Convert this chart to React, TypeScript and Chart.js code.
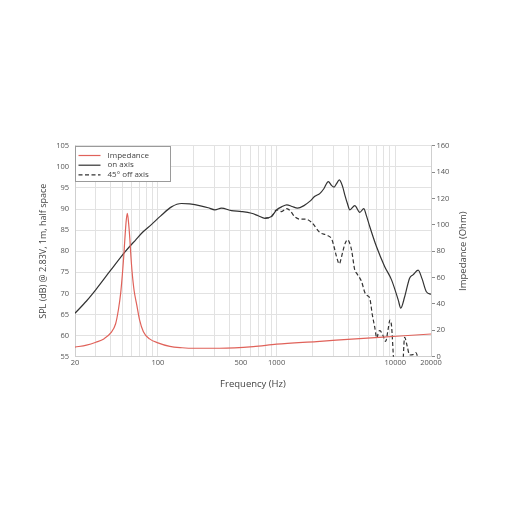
import React, { useEffect, useRef } from "react";
import { Chart, registerables } from "chart.js";
Chart.register(...registerables);

// ---- data ----
const xGridValues = [
  20, 30, 40, 50, 60, 70, 80, 90,
  100, 200, 300, 400, 500, 600, 700, 800, 900,
  1000, 2000, 3000, 4000, 5000, 6000, 7000, 8000, 9000,
  10000, 20000,
];
const xTickLabels = [20, 100, 500, 1000, 10000, 20000];

const onAxisFreq = [20, 25, 30, 40, 53, 65, 75, 88, 105, 130, 158, 185, 233, 265, 302, 343, 417, 506, 614, 700, 798, 904, 1000, 1100, 1218, 1350, 1500, 1700, 1900, 2100, 2321, 2500, 2728, 2900, 3050, 3200, 3375, 3600, 3760, 3950, 4140, 4560, 5020, 5430, 5700, 6100, 6940, 8130, 9300, 10600, 11120, 12000, 13200, 14100, 15580, 16800, 18280, 20000];
const onAxisSpl = [65.3, 68.2, 70.9, 75.5, 79.9, 82.7, 84.6, 86.3, 88.3, 90.5, 91.3, 91.2, 90.7, 90.3, 89.8, 90.2, 89.6, 89.4, 89.0, 88.4, 87.8, 88.2, 89.8, 90.5, 91.0, 90.6, 90.2, 90.8, 91.8, 93.0, 93.7, 94.8, 96.5, 95.6, 95.2, 96.0, 96.9, 95.3, 93.3, 91.3, 89.8, 90.8, 89.2, 90.1, 88.5, 85.8, 81.1, 76.4, 73.2, 68.4, 66.5, 69.2, 73.6, 74.4, 75.5, 73.5, 70.4, 69.8];

const offAxisFreq = [798, 904, 1000, 1100, 1218, 1300, 1420, 1572, 1760, 1976, 2321, 2640, 2920, 3050, 3200, 3375, 3500, 3640, 3800, 3970, 4140, 4280, 4560, 4720, 5200, 5540, 5800, 6100, 6400, 6700, 7000, 7200, 7420, 7830, 8300, 8700, 9020, 9300, 9700, 10300, 11300, 12000, 12600, 13200, 14100, 14900, 15600];
const offAxisSpl = [87.8, 88.2, 89.8, 89.4, 90.1, 89.6, 88.2, 87.6, 87.6, 86.8, 84.4, 83.8, 82.8, 81, 78.7, 77.0, 78.3, 80.3, 82.0, 82.7, 81.8, 80.3, 75.5, 74.8, 72.8, 70.2, 69.5, 68.8, 65, 62.1, 59.4, 60.8, 61.2, 60.2, 58.6, 61.5, 63.7, 62.3, 54, 48, 48, 59.6, 57.5, 55.4, 55.5, 56.0, 54.5];

const impFreq = [20, 25, 30, 35, 40, 44, 46.5, 48.5, 50.1, 51.5, 52.7, 54, 55.2, 56.5, 57.9, 59.2, 60.6, 63, 66.4, 70, 75.4, 85, 100, 126, 160, 200, 330, 636, 1000, 2176, 5000, 10220, 20000];
const impOhm = [7.3, 8.8, 11.0, 13.5, 18.0, 25, 36, 48, 62, 76, 90, 103, 108.7, 102, 90, 76, 64, 50, 39, 28, 19, 13.5, 10.5, 7.8, 6.8, 6.4, 6.4, 7.6, 9.5, 11.5, 13.7, 15.5, 17.2];

const seriesLabels = ["Impedance", "on axis", "45° off axis"];
const xTitle = "Frequency (Hz)";
const yTitle = "SPL (dB) @ 2.83V, 1m, half space";
const y2Title = "Impedance (Ohm)";

const FONT = '"Open Sans", "DejaVu Sans", sans-serif';

const toPoints = (xs: number[], ys: number[]) => xs.map((x, i) => ({ x, y: ys[i] }));

const legendPlugin = {
  id: "boxLegend",
  afterDatasetsDraw(chart: any) {
    const { ctx, chartArea } = chart;
    const x0 = Math.round(chartArea.left) + 0.5;
    const y0 = Math.round(chartArea.top) + 0.5;
    const w = 95;
    const h = 35;
    ctx.save();
    ctx.fillStyle = "#ffffff";
    ctx.fillRect(x0, y0, w, h);
    ctx.strokeStyle = "#9a9a9a";
    ctx.lineWidth = 1;
    ctx.strokeRect(x0, y0, w, h);
    ctx.font = `8px ${FONT}`;
    ctx.textBaseline = "middle";
    chart.data.datasets.forEach((ds: any, i: number) => {
      const y = y0 + 9 + i * 9.7;
      ctx.strokeStyle = ds.borderColor;
      ctx.lineWidth = ds.borderWidth;
      ctx.setLineDash(ds.borderDash || []);
      ctx.beginPath();
      ctx.moveTo(x0 + 3, y);
      ctx.lineTo(x0 + 25, y);
      ctx.stroke();
      ctx.setLineDash([]);
      ctx.fillStyle = "#444";
      ctx.fillText(ds.label, x0 + 32, y);
    });
    ctx.restore();
  },
};

const rightTitlePlugin = {
  id: "rightTitle",
  afterDraw(chart: any) {
    const { ctx, chartArea } = chart;
    ctx.save();
    ctx.translate(463, (chartArea.top + chartArea.bottom) / 2);
    ctx.rotate(-Math.PI / 2);
    ctx.font = `9.5px ${FONT}`;
    ctx.fillStyle = "#444";
    ctx.textAlign = "center";
    ctx.textBaseline = "middle";
    ctx.fillText(y2Title, 0, 0);
    ctx.restore();
  },
};

export default function App() {
  const ref = useRef<HTMLCanvasElement>(null);
  useEffect(() => {
    document.body.style.margin = "0";
    const canvas = ref.current;
    if (!canvas) return;
    const chart = new Chart(canvas, {
      type: "line",
      data: {
        datasets: [
          {
            label: seriesLabels[0],
            data: toPoints(impFreq, impOhm),
            yAxisID: "y2",
            borderColor: "#e0625a",
            borderWidth: 1.2,
            pointRadius: 0,
            cubicInterpolationMode: "monotone",
          },
          {
            label: seriesLabels[1],
            data: toPoints(onAxisFreq, onAxisSpl),
            yAxisID: "y",
            borderColor: "#333333",
            borderWidth: 1.2,
            pointRadius: 0,
            cubicInterpolationMode: "monotone",
          },
          {
            label: seriesLabels[2],
            data: toPoints(offAxisFreq, offAxisSpl),
            yAxisID: "y",
            borderColor: "#333333",
            borderWidth: 1.2,
            borderDash: [4, 2.5],
            pointRadius: 0,
            cubicInterpolationMode: "monotone",
          },
        ],
      },
      options: {
        responsive: false,
        animation: false,
        devicePixelRatio: 1,
        layout: { padding: { left: 38, right: 20, top: 145.7, bottom: 120.3 } },
        plugins: {
          legend: { display: false },
          tooltip: { enabled: false },
        },
        scales: {
          x: {
            type: "logarithmic",
            min: 20,
            max: 20000,
            afterBuildTicks: (scale: any) => {
              scale.ticks = xGridValues.map((v) => ({ value: v }));
            },
            afterFit: (scale: any) => {
              scale.height = 33;
            },
            ticks: {
              autoSkip: false,
              maxRotation: 0,
              padding: 2,
              color: "#555",
              font: { family: FONT, size: 7.5 },
              callback: (value: any) => (xTickLabels.includes(Number(value)) ? String(value) : ""),
            },
            grid: { color: "#e2e2e2", drawTicks: false, lineWidth: 1 },
            border: { display: true, color: "#cfcfcf" },
            title: {
              display: true,
              text: xTitle,
              color: "#444",
              font: { family: FONT, size: 9.5 },
              padding: 0,
            },
          },
          y: {
            type: "linear",
            position: "left",
            min: 55,
            max: 105,
            afterFit: (scale: any) => {
              scale.width = 75 - 38;
            },
            ticks: {
              stepSize: 5,
              padding: 6,
              color: "#555",
              font: { family: FONT, size: 7.5 },
            },
            grid: { color: "#e2e2e2", drawTicks: false },
            border: { display: true, color: "#cfcfcf" },
            title: {
              display: true,
              text: yTitle,
              color: "#444",
              font: { family: FONT, size: 9 },
              padding: 0,
            },
          },
          y2: {
            type: "linear",
            position: "right",
            min: 0,
            max: 160,
            afterFit: (scale: any) => {
              scale.width = 510 - 431 - 20;
            },
            ticks: {
              stepSize: 20,
              padding: 1.5,
              color: "#555",
              font: { family: FONT, size: 7.5 },
            },
            grid: { drawOnChartArea: false, drawTicks: true, tickLength: 4, color: "#8a8a8a" },
            border: { display: true, color: "#cfcfcf" },
          },
        },
      } as any,
      plugins: [legendPlugin, rightTitlePlugin],
    });
    return () => chart.destroy();
  }, []);
  return (
    <div style={{ position: "absolute", left: 0, top: 0, width: 510, height: 510, background: "#fff" }}>
      <canvas ref={ref} width={510} height={510} style={{ display: "block", width: 510, height: 510 }} />
    </div>
  );
}
